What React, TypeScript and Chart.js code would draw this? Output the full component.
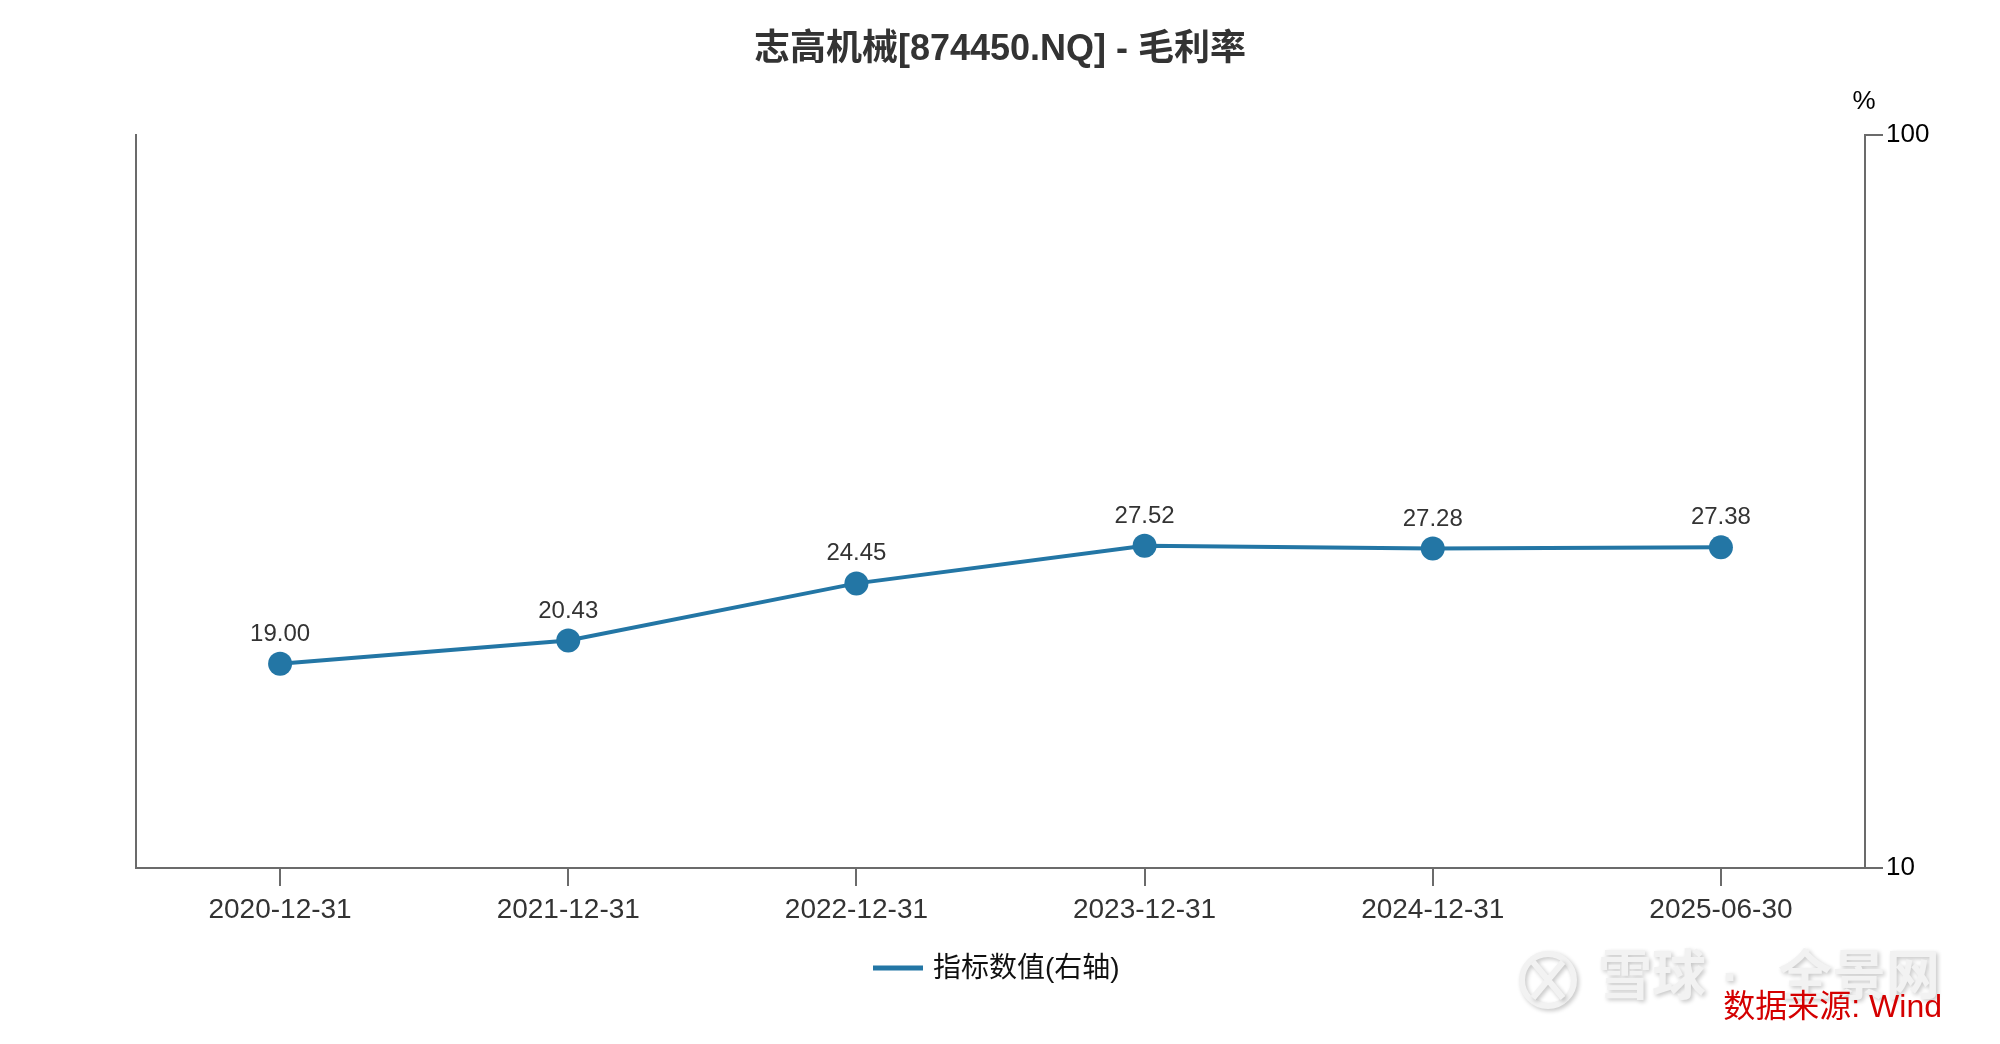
import React, { useEffect, useRef } from 'react';
import { Chart, registerables } from 'chart.js';
Chart.register(...registerables);

const categories = ['2020-12-31', '2021-12-31', '2022-12-31', '2023-12-31', '2024-12-31', '2025-06-30'];
const values = [19.0, 20.43, 24.45, 27.52, 27.28, 27.38];
const yTicks = [10, 100];
const titleText = '志高机械[874450.NQ] - 毛利率';
const seriesName = '指标数值(右轴)';
const unitText = '%';
const sourceText = '数据来源: Wind';
const watermarkLeft = '雪球';
const watermarkRight = '全景网';

const FONT = '"Liberation Sans", Arial, "Noto Sans CJK SC", sans-serif';
const LINE = '#2376a5';
const AXIS = '#6b6b6b';

const overlay = {
  id: 'overlay',
  afterDraw(chart: any) {
    const ctx = chart.ctx;
    ctx.save();
    // title
    ctx.fillStyle = '#333';
    ctx.font = `bold 36px ${FONT}`;
    ctx.textAlign = 'center';
    ctx.textBaseline = 'middle';
    ctx.fillText(titleText, 1000, 50);
    // unit
    ctx.fillStyle = '#000';
    ctx.font = `26px ${FONT}`;
    ctx.fillText(unitText, 1864, 102);
    // data labels
    const meta = chart.getDatasetMeta(0);
    ctx.fillStyle = '#333';
    ctx.font = `24px ${FONT}`;
    ctx.textBaseline = 'alphabetic';
    meta.data.forEach((pt: any, i: number) => {
      ctx.fillText(values[i].toFixed(2), pt.x, pt.y - 23);
    });
    // legend
    ctx.strokeStyle = LINE;
    ctx.lineWidth = 5;
    ctx.beginPath();
    ctx.moveTo(873, 968);
    ctx.lineTo(923, 968);
    ctx.stroke();
    ctx.fillStyle = '#111';
    ctx.font = `28px ${FONT}`;
    ctx.textAlign = 'left';
    ctx.textBaseline = 'middle';
    ctx.fillText(seriesName, 933, 969);
    // watermark
    ctx.shadowColor = 'rgba(0,0,0,0.22)';
    ctx.shadowBlur = 4;
    ctx.shadowOffsetX = 2;
    ctx.shadowOffsetY = 2;
    ctx.strokeStyle = '#f2f2f2';
    ctx.lineWidth = 6;
    ctx.beginPath();
    ctx.arc(1548, 980, 26, 0, Math.PI * 2);
    ctx.stroke();
    ctx.beginPath();
    ctx.moveTo(1533, 962);
    ctx.lineTo(1563, 998);
    ctx.moveTo(1563, 962);
    ctx.lineTo(1533, 998);
    ctx.stroke();
    ctx.fillStyle = '#f2f2f2';
    ctx.font = `bold 54px ${FONT}`;
    ctx.textBaseline = 'middle';
    ctx.fillText(watermarkLeft, 1598, 980);
    ctx.fillText('·', 1722, 980);
    ctx.fillText(watermarkRight, 1778, 980);
    ctx.shadowColor = 'transparent';
    // source
    ctx.fillStyle = '#d40000';
    ctx.font = `32px ${FONT}`;
    ctx.textAlign = 'right';
    ctx.fillText(sourceText, 1942, 1008);
    ctx.restore();
  },
};

export default function App() {
  const ref = useRef<HTMLCanvasElement | null>(null);
  useEffect(() => {
    if (!ref.current) return;
    const chart = new Chart(ref.current, {
      type: 'line',
      data: {
        labels: categories,
        datasets: [
          {
            label: seriesName,
            data: values,
            borderColor: LINE,
            backgroundColor: LINE,
            borderWidth: 4,
            pointRadius: 12,
            pointHoverRadius: 12,
            pointBackgroundColor: LINE,
            pointBorderWidth: 0,
            tension: 0,
            yAxisID: 'y',
          },
        ],
      },
      plugins: [overlay],
      options: {
        animation: false,
        responsive: false,
        devicePixelRatio: 1,
        layout: { padding: { top: 135, left: 0, right: 0, bottom: 0 } },
        plugins: { legend: { display: false }, title: { display: false }, tooltip: { enabled: false } },
        scales: {
          x: {
            type: 'category',
            offset: true,
            position: 'bottom',
            grid: { display: true, drawOnChartArea: false, drawTicks: true, tickLength: 18, color: AXIS, lineWidth: 2 },
            border: { display: true, color: AXIS, width: 2 },
            ticks: { color: '#333', font: { size: 28, family: FONT }, padding: 7, maxRotation: 0, autoSkip: false },
            afterFit: (s: any) => { s.height = 176; },
          },
          y: {
            type: 'logarithmic',
            position: 'right',
            min: 10,
            max: 100,
            afterBuildTicks: (s: any) => { s.ticks = yTicks.map((v) => ({ value: v })); },
            grid: { display: true, drawOnChartArea: false, drawTicks: true, tickLength: 18, color: AXIS, lineWidth: 2 },
            border: { display: true, color: AXIS, width: 2 },
            ticks: { color: '#000', font: { size: 26, family: FONT }, padding: 3, callback: (v: any) => String(v) },
            afterFit: (s: any) => { s.width = 135; },
          },
          yL: {
            type: 'linear',
            position: 'left',
            display: true,
            grid: { display: false },
            ticks: { display: false },
            border: { display: true, color: AXIS, width: 2 },
            afterFit: (s: any) => { s.width = 136; },
          },
        },
      } as any,
    });
    return () => chart.destroy();
  }, []);
  return (
    <div style={{ position: 'fixed', left: 0, top: 0, width: 2000, height: 1044, background: '#fff' }}>
      <canvas ref={ref} width={2000} height={1044} style={{ width: 2000, height: 1044, display: 'block' }} />
    </div>
  );
}
